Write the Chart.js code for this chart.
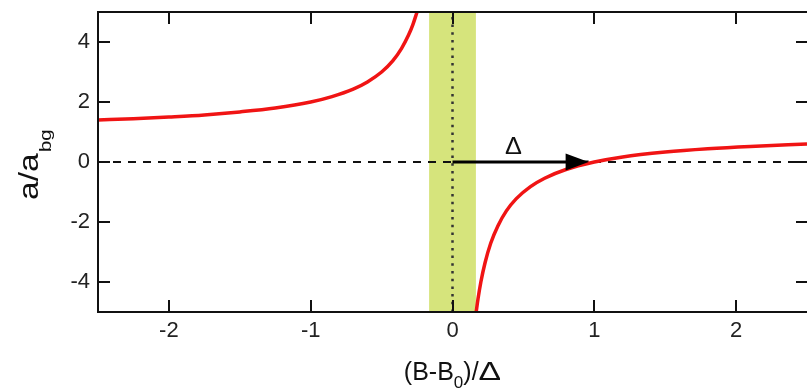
<!DOCTYPE html>
<html lang="en">
<head>
<meta charset="UTF-8">
<title>Scattering length near a Feshbach resonance</title>
<script src="https://cdn.jsdelivr.net/npm/chart.js@4"></script>
<style>
    html, body { margin: 0; padding: 0; background: #fff; }
    .chart-box { width: 807px; height: 390px; }
</style>
</head>
<body>
<div class="chart-box"><canvas id="resonanceChart"></canvas></div>
<script>
    // values
    const xRange = [-2.5, 2.5];
    const yRange = [-5, 5];
    const xTicks = [-2, -1, 0, 1, 2];
    const yTicks = [-4, -2, 0, 2, 4];

    // branch below the resonance
    const leftX = [-2.5, -2.25, -2.0, -1.75, -1.5, -1.25, -1.0, -0.85, -0.7, -0.6, -0.5, -0.42, -0.36, -0.31, -0.28, -0.25];
    const leftY = [1.40, 1.44, 1.50, 1.57, 1.67, 1.80, 2.00, 2.18, 2.43, 2.67, 3.00, 3.38, 3.78, 4.23, 4.57, 5.00];
    // branch above the resonance
    const rightX = [0.167, 0.18, 0.2, 0.23, 0.27, 0.32, 0.38, 0.45, 0.55, 0.65, 0.8, 1.0, 1.2, 1.5, 1.8, 2.1, 2.5];
    const rightY = [-5.0, -4.56, -4.0, -3.35, -2.70, -2.13, -1.63, -1.22, -0.82, -0.54, -0.25, 0.0, 0.17, 0.33, 0.44, 0.52, 0.60];

    const bandX = [-0.165, 0.165];
    const arrowX = [0, 0.96];
    const arrowY = [0, 0];
    const deltaLabel = [0.43, 0.28];

    const xTitle = ['(B-B', '0', ')/', 'Δ'];
    const yTitle = ['a/a', 'bg'];

    const FONT = '"Liberation Sans", Arial, Helvetica, sans-serif';

    function pts(xs, ys) {
        return xs.map((x, i) => ({ x: x, y: ys[i] }));
    }

    const decor = {
        id: 'decor',
        beforeDatasetsDraw(chart) {
            const { ctx, chartArea: a, scales: { x } } = chart;
            ctx.save();
            ctx.fillStyle = '#d6e47c';
            const x0 = x.getPixelForValue(bandX[0]);
            const x1 = x.getPixelForValue(bandX[1]);
            ctx.fillRect(x0, a.top, x1 - x0, a.bottom - a.top);
            ctx.restore();
        },
        afterDatasetsDraw(chart) {
            const { ctx, chartArea: a, scales: { x, y } } = chart;
            ctx.save();

            // arrow head
            const tip = x.getPixelForValue(arrowX[1]);
            const yy = y.getPixelForValue(arrowY[1]);
            ctx.fillStyle = '#000';
            ctx.beginPath();
            ctx.moveTo(tip, yy);
            ctx.lineTo(tip - 23, yy - 8.5);
            ctx.lineTo(tip - 23, yy + 8.5);
            ctx.closePath();
            ctx.fill();

            // delta label
            ctx.save();
            ctx.font = '23px ' + FONT;
            ctx.textAlign = 'center';
            ctx.textBaseline = 'alphabetic';
            ctx.fillStyle = '#111';
            ctx.translate(x.getPixelForValue(deltaLabel[0]), y.getPixelForValue(deltaLabel[1]));
            ctx.scale(1.1, 1);
            ctx.fillText('Δ', 0, 0);
            ctx.restore();

            // frame: left, top, bottom
            ctx.fillStyle = '#111';
            ctx.fillRect(a.left - 1, a.top - 1, 2, a.bottom - a.top + 2);
            ctx.fillRect(a.left - 1, a.top - 1, a.right - a.left + 3, 2);
            ctx.fillRect(a.left - 1, a.bottom - 1, a.right - a.left + 3, 2);

            // inward ticks on all four sides
            xTicks.forEach(v => {
                const px = Math.round(x.getPixelForValue(v));
                ctx.fillRect(px - 1, a.bottom - 12, 2, 12);
                ctx.fillRect(px - 1, a.top, 2, 12);
            });
            yTicks.forEach(v => {
                const py = Math.round(y.getPixelForValue(v));
                ctx.fillRect(a.left, py - 1, 12, 2);
                ctx.fillRect(a.right - 11, py - 1, 12, 2);
            });
            ctx.restore();
        },
        afterDraw(chart) {
            const { ctx, chartArea: a } = chart;
            ctx.save();
            ctx.fillStyle = '#111';
            ctx.textBaseline = 'alphabetic';
            ctx.textAlign = 'left';

            // x title with subscript
            ctx.font = '25px ' + FONT;
            const w0 = ctx.measureText(xTitle[0]).width;
            const w2 = ctx.measureText(xTitle[2]).width;
            const wD = ctx.measureText(xTitle[3]).width * 1.35;
            ctx.font = '17px ' + FONT;
            const w1 = ctx.measureText(xTitle[1]).width;
            const total = w0 + w1 + w2 + wD;
            let cx = (a.left + a.right) / 2 - total / 2;
            const base = 380;
            ctx.font = '25px ' + FONT;
            ctx.fillText(xTitle[0], cx, base);
            cx += w0;
            ctx.font = '17px ' + FONT;
            ctx.fillText(xTitle[1], cx, base + 8);
            cx += w1;
            ctx.font = '25px ' + FONT;
            ctx.fillText(xTitle[2], cx, base);
            cx += w2;
            ctx.save();
            ctx.translate(cx, base);
            ctx.scale(1.35, 1);
            ctx.fillText(xTitle[3], 0, 0);
            ctx.restore();

            // y title with subscript, rotated
            ctx.save();
            ctx.translate(38, 200);
            ctx.rotate(-Math.PI / 2);
            ctx.scale(1.2, 1);
            ctx.font = '28px ' + FONT;
            ctx.fillText(yTitle[0], 0, 0);
            const wy = ctx.measureText(yTitle[0]).width;
            ctx.font = '17px ' + FONT;
            ctx.fillText(yTitle[1], wy + 1, 13);
            ctx.restore();

            ctx.restore();
        }
    };

    const lineBase = { showLine: true, pointRadius: 0, pointHoverRadius: 0, fill: false };

    new Chart(document.getElementById('resonanceChart'), {
        type: 'scatter',
        data: {
            datasets: [
                Object.assign({}, lineBase, {
                    label: 'B < B0',
                    data: pts(leftX, leftY),
                    borderColor: '#f01414',
                    borderWidth: 3.5,
                    cubicInterpolationMode: 'monotone',
                    order: 0
                }),
                Object.assign({}, lineBase, {
                    label: 'B > B0',
                    data: pts(rightX, rightY),
                    borderColor: '#f01414',
                    borderWidth: 3.5,
                    cubicInterpolationMode: 'monotone',
                    order: 0
                }),
                Object.assign({}, lineBase, {
                    label: 'arrow',
                    data: pts(arrowX, arrowY),
                    borderColor: '#000',
                    borderWidth: 3,
                    order: 1
                }),
                Object.assign({}, lineBase, {
                    label: 'B0',
                    data: pts([0, 0], yRange),
                    borderColor: '#333',
                    borderWidth: 2.5,
                    borderDash: [2.5, 5.2],
                    order: 2
                }),
                Object.assign({}, lineBase, {
                    label: 'zero',
                    data: pts(xRange, [0, 0]),
                    borderColor: '#111',
                    borderWidth: 2,
                    borderDash: [8, 7],
                    order: 3
                })
            ]
        },
        options: {
            responsive: true,
            maintainAspectRatio: false,
            animation: false,
            layout: { padding: { top: 12, right: 0, left: 0, bottom: 0 } },
            plugins: {
                legend: { display: false },
                tooltip: { enabled: false }
            },
            scales: {
                x: {
                    type: 'linear',
                    min: xRange[0],
                    max: xRange[1],
                    grid: { display: false, drawTicks: false },
                    border: { display: false },
                    ticks: { font: { family: FONT, size: 22 }, color: '#222', padding: 6, maxRotation: 0 },
                    afterBuildTicks: s => { s.ticks = xTicks.map(v => ({ value: v })); },
                    afterFit: s => { s.height = 78; s.paddingLeft = 0; s.paddingRight = 0; }
                },
                y: {
                    type: 'linear',
                    min: yRange[0],
                    max: yRange[1],
                    grid: { display: false, drawTicks: false },
                    border: { display: false },
                    ticks: { font: { family: FONT, size: 22 }, color: '#222', padding: 8 },
                    afterBuildTicks: s => { s.ticks = yTicks.map(v => ({ value: v })); },
                    afterFit: s => { s.width = 98; s.paddingTop = 0; s.paddingBottom = 0; }
                }
            }
        },
        plugins: [decor]
    });
</script>
</body>
</html>
